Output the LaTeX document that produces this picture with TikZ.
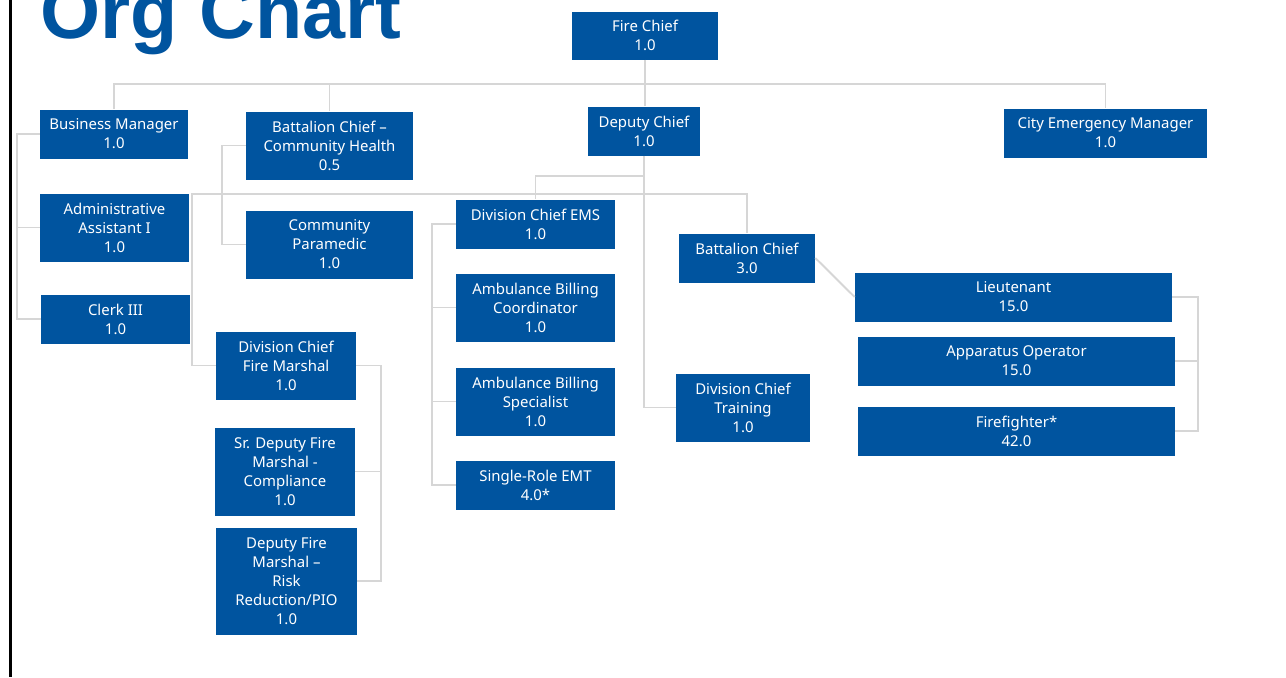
\documentclass[tikz,border=0pt]{standalone}
\usepackage{fontspec}
\setmainfont{Noto Sans}
\newfontfamily\titlefont{Liberation Sans}
\definecolor{orgblue}{RGB}{0,84,159}
\definecolor{orgline}{RGB}{214,214,214}

\begin{document}
\begin{tikzpicture}[x=0.02cm, y=-0.02cm,
		post/.style 2 args={fill=orgblue, text=white, align=center, inner sep=0pt,
			minimum width=#1*0.02cm, minimum height=#2*0.02cm,
			font=\fontsize{8.5}{10.8}\selectfont},
		link/.style={draw=orgline, line width=1.1pt}]
		\useasboundingbox (0,0) rectangle (1286,677);
		\clip (0,0) rectangle (1286,677);
		\fill[white] (0,0) rectangle (1286,677);
		\draw[line width=1.7pt] (10.5,0) -- (10.5,677);
		\node[anchor=base west, text=orgblue, inner sep=0pt,
			font=\titlefont\fontsize{44}{44}\bfseries\selectfont] (title) at (40,38) {Org Chart};

		\node[post={146}{48}] (fire) at (645,35.5) {Fire Chief\\1.0};
		\node[post={148}{49}] (bm) at (114,134) {Business Manager\\1.0};
		\node[post={167}{68}] (bcch) at (329.5,145.5) {Battalion Chief –\\Community Health\\0.5};
		\node[post={112}{49}] (dep) at (644,131) {Deputy Chief\\1.0};
		\node[post={203}{49}] (cem) at (1105.5,133) {City Emergency Manager\\1.0};

		\node[post={149}{68}] (adm) at (114.5,227.5) {Administrative\\Assistant I\\1.0};
		\node[post={149}{49}] (clerk) at (115.5,319) {Clerk III\\1.0};
		\node[post={167}{68}] (para) at (329.5,244.5) {Community\\Paramedic\\1.0};

		\node[post={159}{49}] (ems) at (535.5,224) {Division Chief EMS\\1.0};
		\node[post={159}{68}] (abc) at (535.5,307.5) {Ambulance Billing\\Coordinator\\1.0};
		\node[post={159}{68}] (abs) at (535.5,401.5) {Ambulance Billing\\Specialist\\1.0};
		\node[post={159}{49}] (emt) at (535.5,485) {Single-Role EMT\\4.0*};

		\node[post={136}{49}] (bc) at (747,258) {Battalion Chief\\3.0};
		\node[post={134}{68}] (dct) at (743,407.5) {Division Chief\\Training\\1.0};
		\node[post={317}{49}] (lt) at (1013.5,297) {Lieutenant\\15.0};
		\node[post={317}{49}] (ao) at (1016.5,361) {Apparatus Operator\\15.0};
		\node[post={317}{49}] (ff) at (1016.5,431) {Firefighter*\\42.0};

		\node[post={140}{68}] (dcfm) at (286,365.5) {Division Chief\\Fire Marshal\\1.0};
		\node[post={140}{88}] (sdfm) at (285,471.5) {Sr. Deputy Fire\\Marshal -\\Compliance\\1.0};
		\node[post={141}{107}] (dfm) at (286.5,581) {Deputy Fire\\Marshal –\\Risk\\Reduction/PIO\\1.0};

		\coordinate (topbus) at (0,84);
		\coordinate (emsbus) at (0,176);
		\coordinate (midbus) at (0,194);
		\coordinate (bmline) at (17,0);
		\coordinate (chline) at (222,0);
		\coordinate (fmline) at (192,0);
		\coordinate (fmright) at (381,0);
		\coordinate (emsline) at (432,0);
		\coordinate (ltline) at (1198,0);

		\draw[link] (fire.south) -- (fire.south |- dep.north);
		\draw[link] (bm.north) |- (topbus -| cem.north) -- (cem.north);
		\draw[link] (bcch.north) -- (bcch.north |- topbus);

		\draw[link] (bm.west) -| (bmline |- clerk.west) -- (clerk.west);
		\draw[link] (adm.west) -- (adm.west -| bmline);
		\draw[link] (bcch.west) -| (chline |- para.west) -- (para.west);

		\draw[link] (dep.south) |- (dct.west);
		\draw[link] (dep.south |- emsbus) -| (ems.north);
		\draw[link] (dcfm.west) -| (fmline |- midbus) -| (bc.north);
		\draw[link] (ems.west) -| (emsline |- emt.west) -- (emt.west);
		\foreach \n in {abc,abs}
			\draw[link] (\n.west) -- (\n.west -| emsline);

		\draw[link] (bc.east) -- (lt.west);
		\draw[link] (lt.east) -| (ltline |- ff.east) -- (ff.east);
		\draw[link] (ao.east) -- (ao.east -| ltline);

		\draw[link] (dcfm.east) -| (fmright |- dfm.east) -- (dfm.east);
		\draw[link] (sdfm.east) -- (sdfm.east -| fmright);
	\end{tikzpicture}
\end{document}
